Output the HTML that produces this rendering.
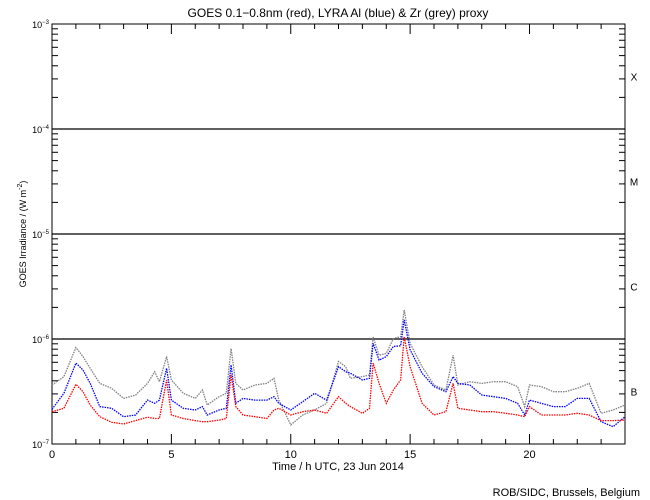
<!DOCTYPE html>
<html><head><meta charset="utf-8"><style>
body{margin:0;background:#fff}
svg{display:block;font-family:"Liberation Sans",sans-serif}
</style></head><body>
<svg id="chart" width="650" height="500" viewBox="0 0 650 500">
<rect width="650" height="500" fill="#fff"/>
<text x="338" y="17" text-anchor="middle" font-size="12">GOES 0.1−0.8nm (red), LYRA Al (blue) &amp; Zr (grey) proxy</text>
<g id="axes"></g>
<g id="series"></g>
<text x="338" y="470" text-anchor="middle" font-size="11">Time / h UTC, 23 Jun 2014</text>
<text transform="translate(26,234) rotate(-90)" text-anchor="middle" font-size="9">GOES Irradiance / (W m<tspan dy="-4" font-size="7">-2</tspan><tspan dy="4">)</tspan></text>
<text x="640" y="496" text-anchor="end" font-size="11">ROB/SIDC, Brussels, Belgium</text>
</svg>
<script>
const hours=[0,0.5,1,1.3,1.6,2,2.5,3,3.5,4,4.3,4.5,4.8,5,5.5,6,6.3,6.5,7,7.3,7.5,7.7,8,8.5,9,9.3,9.5,10,10.5,11,11.5,12,12.3,12.5,13,13.3,13.45,13.7,14,14.3,14.6,14.75,15,15.5,16,16.5,16.8,17,17.5,18,18.5,19,19.5,19.8,20,20.5,21,21.5,22,22.5,23,23.5,24];
const goesRed=[2.03,2.19,3.70,3.15,2.35,1.82,1.61,1.55,1.67,1.80,1.75,1.75,4.07,1.89,1.75,1.67,1.63,1.63,1.69,1.75,4.54,2.27,1.89,1.82,1.75,2.11,2.19,1.89,2.03,2.11,1.96,2.82,2.44,2.27,1.96,2.19,5.9,3.78,2.44,3.27,4.07,10.5,5.45,2.44,1.89,2.03,3.78,2.19,2.11,2.03,2.03,1.96,1.89,1.82,2.27,1.89,1.89,1.89,1.96,1.89,1.67,1.67,1.69];
const lyraAl=[2.14,3.04,5.9,5.07,3.78,2.27,2.19,1.82,1.89,2.62,2.44,2.62,5.26,2.62,2.19,2.11,2.27,1.89,2.11,2.19,5.65,2.44,2.72,2.62,2.62,2.82,2.44,2.11,2.53,3.04,2.62,5.45,4.88,4.71,4.07,4.22,9.1,6.3,6.8,8.5,8.6,15.2,7.9,4.71,3.52,3.15,4.38,3.78,3.65,2.93,2.82,2.72,2.44,1.89,2.62,2.44,2.27,2.27,2.72,2.72,1.63,1.46,1.82];
const lyraZr=[3.65,4.38,8.3,6.8,5.26,3.78,3.39,2.72,2.93,3.78,4.88,3.92,6.8,4.07,3.04,2.72,3.27,2.35,2.82,3.04,8.1,3.78,3.27,3.65,3.78,4.22,2.62,1.52,1.89,2.11,2.44,6.1,5.45,4.22,4.38,4.54,10.5,7.0,7.3,10.1,10.5,18.9,9.1,5.45,3.65,3.27,7.0,3.65,3.92,3.78,3.92,3.92,3.52,2.27,3.65,3.52,3.15,3.15,3.39,3.78,1.96,2.11,2.35];
const xTicks=[0,5,10,15,20];
const classLabels=["X","M","C","B"];
const L=52,R=625,T=24,B=444;
const X=h=>L+(R-L)*h/24;
const Y=v=>B-105*(Math.log10(v)+7); // v in W/m^2
const NS="http://www.w3.org/2000/svg";
const ax=document.getElementById('axes'), sg=document.getElementById('series');
function mk(tag,attrs,parent){const e=document.createElementNS(NS,tag);for(const k in attrs)e.setAttribute(k,attrs[k]);parent.appendChild(e);return e;}
let frame=mk('rect',{x:L,y:T,width:R-L,height:B-T,fill:'none',stroke:'#000','stroke-width':1},ax);


// decade lines & y ticks
for(let d=-7;d<=-3;d++){
  const y=Y(Math.pow(10,d));
  if(d>-7&&d<-3){let g=mk('line',{x1:L,x2:R,y1:y,y2:y,stroke:'#000','stroke-width':1.2},ax);
    
    }
  let t=mk('text',{x:L-3,y:y+4,'text-anchor':'end','font-size':9},ax);
  
  
  t.innerHTML='10<tspan dy="-4" font-size="6">'+(d).toString().replace('-','−')+'</tspan>';
  if(d<-3){for(let m=2;m<=9;m++){const yy=Y(m*Math.pow(10,d));
    mk('line',{x1:L,x2:L+6,y1:yy,y2:yy,stroke:'#000'},ax);
    mk('line',{x1:R-6,x2:R,y1:yy,y2:yy,stroke:'#000'},ax);}}
}
// x ticks
for(let h=0;h<=24;h++){const x=X(h),len=(h%5===0)?10:5;
  mk('line',{x1:x,x2:x,y1:B,y2:B-len,stroke:'#000'},ax);
  mk('line',{x1:x,x2:x,y1:T,y2:T+len,stroke:'#000'},ax);}
xTicks.forEach(h=>{let t=mk('text',{x:X(h),y:B+14,'text-anchor':'middle','font-size':11},ax);
  
  
  t.textContent=h;});
classLabels.forEach((c,i)=>{let t=mk('text',{x:R+9,y:Y(Math.pow(10,-3-i-0.5))+4,'text-anchor':'middle','font-size':10},ax);
  
  
  t.textContent=c;});
function series(vals,color,name){
  const pts=hours.map((h,i)=>X(h).toFixed(1)+','+Y(vals[i]*1e-7).toFixed(1)).join(' ');
  let p=mk('polyline',{points:pts,fill:'none',stroke:color,'stroke-width':1.3,'stroke-dasharray':'1.5 1'},sg);
  
  
}
series(lyraZr,'#808080','lyra-zr-series');
series(lyraAl,'#0000ff','lyra-al-series');
series(goesRed,'#ff0000','goes-series');
</script>
</body></html>
